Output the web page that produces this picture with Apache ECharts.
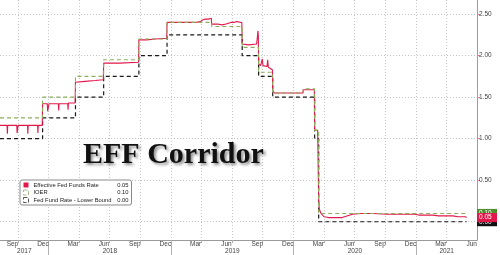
<!DOCTYPE html>
<html><head><meta charset="utf-8">
<script src="https://cdn.jsdelivr.net/npm/echarts@6/dist/echarts.min.js"></script>
<style>html,body{margin:0;padding:0;background:#fff}#c{width:500px;height:255px}</style>
</head><body><div id="c"></div>
<script>
// ---- data ----
const seriesNames = ['Effective Fed Funds Rate', 'IOER', 'Fed Fund Rate - Lower Bound'];
const effr = [
  ['2017-08-09',1.16],['2017-08-30',1.16],['2017-08-31',1.06],['2017-09-01',1.16],
  ['2017-09-28',1.16],['2017-09-29',1.07],['2017-10-02',1.16],
  ['2017-10-30',1.16],['2017-10-31',1.06],['2017-11-01',1.16],
  ['2017-11-29',1.16],['2017-11-30',1.07],['2017-12-01',1.16],
  ['2017-12-13',1.16],['2017-12-14',1.42],
  ['2017-12-28',1.42],['2017-12-29',1.33],['2018-01-02',1.42],
  ['2018-01-30',1.42],['2018-01-31',1.34],['2018-02-01',1.42],
  ['2018-02-27',1.42],['2018-02-28',1.35],['2018-03-01',1.43],
  ['2018-03-21',1.43],['2018-03-22',1.68],['2018-04-20',1.69],['2018-05-20',1.70],['2018-06-13',1.71],
  ['2018-06-14',1.91],['2018-08-01',1.91],['2018-09-26',1.92],
  ['2018-09-27',2.19],['2018-10-20',2.19],['2018-11-15',2.20],['2018-12-19',2.21],
  ['2018-12-20',2.40],['2019-03-14',2.40],['2019-03-29',2.41],['2019-04-05',2.43],['2019-04-12',2.44],
  ['2019-04-22',2.44],['2019-04-26',2.45],['2019-05-01',2.45],['2019-05-02',2.38],['2019-05-20',2.38],
  ['2019-06-01',2.37],['2019-06-14',2.38],['2019-06-28',2.40],['2019-07-08',2.40],['2019-07-15',2.41],['2019-07-31',2.40],
  ['2019-08-01',2.14],['2019-08-20',2.13],['2019-09-13',2.14],['2019-09-16',2.25],['2019-09-17',2.30],['2019-09-18',2.25],
  ['2019-09-19',1.90],['2019-09-25',1.88],['2019-09-30',1.96],['2019-10-02',1.88],['2019-10-14',1.87],
  ['2019-10-16',1.95],['2019-10-18',1.86],['2019-10-30',1.83],
  ['2019-10-31',1.58],['2019-11-05',1.55],['2020-01-29',1.55],['2020-01-30',1.59],['2020-03-03',1.59],
  ['2020-03-04',1.10],['2020-03-13',1.10],['2020-03-16',0.25],['2020-03-18',0.15],['2020-03-23',0.10],
  ['2020-04-01',0.06],['2020-04-15',0.05],['2020-05-25',0.05],['2020-06-08',0.07],['2020-06-25',0.09],
  ['2020-07-20',0.10],['2020-08-25',0.10],['2020-10-05',0.09],['2020-11-10',0.09],['2020-12-28',0.09],
  ['2021-01-08',0.08],['2021-02-20',0.08],['2021-03-08',0.07],['2021-04-20',0.07],['2021-05-05',0.06],
  ['2021-05-27',0.06],['2021-05-31',0.05]
];
const ioer = [
  ['2017-08-09',1.25],['2017-12-14',1.50],['2018-03-22',1.75],['2018-06-14',1.95],
  ['2018-09-27',2.20],['2018-12-20',2.40],['2019-05-02',2.35],['2019-08-01',2.10],
  ['2019-09-19',1.80],['2019-10-31',1.55],['2020-01-30',1.60],['2020-03-04',1.10],
  ['2020-03-16',0.10],['2021-05-31',0.10]
];
const lowerBound = [
  ['2017-08-09',1.00],['2017-12-14',1.25],['2018-03-22',1.50],['2018-06-14',1.75],
  ['2018-09-27',2.00],['2018-12-20',2.25],['2019-08-01',2.00],['2019-09-19',1.75],
  ['2019-10-31',1.50],['2020-03-04',1.00],['2020-03-16',0.00],['2021-05-31',0.00]
];
const yTicks = [0, 0.5, 1, 1.5, 2, 2.5];
const monthNames = ['Sep', 'Dec', 'Mar', 'Jun'];
const years = [2017, 2018, 2019, 2020, 2021];
const xMin = '2017-08-09', xMax = '2021-07-01';

// ---- helpers ----
const ts = s => { const p = s.split('-').map(Number); return Date.UTC(p[0], p[1]-1, p[2]); };
const toXY = arr => arr.map(d => [ts(d[0]), d[1]]);
const tMin = ts(xMin), tMax = ts(xMax);
const monthLabelVals = [], monthLabelText = {}, quarterTicks = [];
for (let y = 2017, m = 8, i = 0; y < 2022; i++) {
  const v = Date.UTC(y, m, 15);
  if (v <= tMax) { monthLabelVals.push(v); monthLabelText[v] = monthNames[i % 4]; }
  const q = Date.UTC(y, m + 1, 1);
  if (q < tMax) quarterTicks.push(q);
  m += 3; if (m > 11) { m -= 12; y++; }
}
const yearStarts = years.slice(1).map(y => Date.UTC(y, 0, 1));
const yearCenters = years.map(y => {
  const a = Math.max(tMin, Date.UTC(y, 0, 1));
  const b = Math.min(tMax, Date.UTC(y + 1, 0, 1));
  return (a + b) / 2;
});
const yearText = v => { let best = 0; yearCenters.forEach((c, i) => { if (Math.abs(c - v) < Math.abs(yearCenters[best] - v)) best = i; }); return String(years[best]); };
const monthText = v => { let best = monthLabelVals[0]; monthLabelVals.forEach(c => { if (Math.abs(c - v) < Math.abs(best - v)) best = c; }); return monthLabelText[best]; };
const last = arr => arr[arr.length - 1][1];
const lastVals = [last(effr), last(ioer), last(lowerBound)];
// last-value tags on the right axis (drawn in this order; red on top)
const tagDefs = [[last(ioer), '#4f8f2f'], [last(lowerBound), '#111111'], [last(effr), '#e2184b']];

const RED = '#e2184b', GREEN = '#8cae5c', BLACK = '#1a1a1a';
const axisFont = 'Liberation Sans';
const yMin = -0.22, yMax = 2.67;
const tagAxes = tagDefs.map(t => ({
  type: 'value', position: 'right', min: yMin, max: yMax,
  axisLine: {show: false}, axisTick: {show: false}, splitLine: {show: false},
  axisLabel: {customValues: [t[0]], margin: 0, hideOverlap: false,
    formatter: () => '{t|' + t[0].toFixed(2) + '}',
    rich: {t: {backgroundColor: t[1], color: '#fff', width: 16, padding: [1, 2], fontSize: 6.5,
      fontFamily: axisFont, lineHeight: 6}}}
}));
const chart = echarts.init(document.getElementById('c'), null, {renderer: 'canvas'});
chart.setOption({
  animation: false,
  backgroundColor: '#fff',
  title: {
    text: 'EFF Corridor', left: 83, top: 140, padding: 0,
    textStyle: {fontFamily: 'Liberation Serif', fontWeight: 'bold', fontSize: 30, color: '#111',
      textShadowColor: 'rgba(0,0,0,0.45)', textShadowBlur: 3, textShadowOffsetX: 2, textShadowOffsetY: 2}
  },
  legend: {
    left: 20, top: 180, orient: 'vertical', itemGap: 1.5, itemWidth: 5, itemHeight: 5,
    padding: [2, 3, 2, 3], backgroundColor: '#fff', borderColor: '#8a8a8a', borderWidth: 1, borderRadius: 2,
    data: [
      {name: seriesNames[0], icon: 'rect', itemStyle: {color: RED, borderWidth: 0}},
      {name: seriesNames[1], icon: 'rect', itemStyle: {color: '#fff', borderColor: '#a8b890', borderWidth: 1, borderType: 'dashed'}},
      {name: seriesNames[2], icon: 'rect', itemStyle: {color: '#fff', borderColor: '#555', borderWidth: 1, borderType: 'dashed'}}
    ],
    formatter: name => '{n|' + name + '}{v|' + lastVals[seriesNames.indexOf(name)].toFixed(2) + '}',
    textStyle: {fontFamily: axisFont, fontSize: 5.8, color: '#222',
      rich: {n: {width: 85, fontSize: 5.8, fontFamily: axisFont, color: '#222'},
             v: {width: 10, align: 'right', fontSize: 5.8, fontFamily: axisFont, color: '#222'}}}
  },
  grid: {left: 0, right: 20, top: 0, bottom: 15, containLabel: false},
  xAxis: [{
    type: 'value', min: tMin, max: tMax, position: 'bottom',
    axisLine: {show: true, onZero: false, lineStyle: {color: '#9a9a9a', width: 1}},
    axisTick: {show: true, customValues: quarterTicks, length: 3, lineStyle: {color: '#b0b0b0'}},
    axisLabel: {customValues: monthLabelVals, margin: 1, fontSize: 6.5, fontFamily: axisFont, color: '#444',
      formatter: v => monthText(v), hideOverlap: false},
    splitLine: {show: true, lineStyle: {color: '#c4c4c4', type: [1, 2], width: 1}}
  }, {
    type: 'value', min: tMin, max: tMax, position: 'bottom', offset: 0,
    axisLine: {show: false, onZero: false},
    axisTick: {show: true, customValues: yearStarts, length: 15, lineStyle: {color: '#b0b0b0'}},
    axisLabel: {customValues: yearCenters, margin: 8, fontSize: 6.5, fontFamily: axisFont, color: '#444',
      formatter: v => yearText(v), hideOverlap: false},
    splitLine: {show: false}
  }],
  yAxis: [{
    type: 'value', position: 'right', min: yMin, max: yMax,
    axisLine: {show: true, lineStyle: {color: '#e07a95', width: 1}},
    axisTick: {show: true, customValues: yTicks, length: 3, lineStyle: {color: '#e07a95'}},
    axisLabel: {customValues: yTicks, margin: 2, fontSize: 6.5, fontFamily: axisFont, color: '#444',
      formatter: v => v.toFixed(2)},
    splitLine: {show: true, lineStyle: {color: '#c4c4c4', type: [1, 2], width: 1}}
  }].concat(tagAxes),
  series: [{
    name: seriesNames[2], type: 'line', step: 'end', data: toXY(lowerBound), symbol: 'none',
    lineStyle: {color: BLACK, width: 1.2, type: [4, 3]}, itemStyle: {color: BLACK}, z: 2
  }, {
    name: seriesNames[0], type: 'line', data: toXY(effr), symbol: 'none',
    lineStyle: {color: RED, width: 1.1}, itemStyle: {color: RED}, z: 3
  }, {
    name: seriesNames[1], type: 'line', step: 'end', data: toXY(ioer), symbol: 'none',
    lineStyle: {color: GREEN, width: 1.1, type: [4, 3]}, itemStyle: {color: GREEN}, z: 4
  }]
});
</script></body></html>
